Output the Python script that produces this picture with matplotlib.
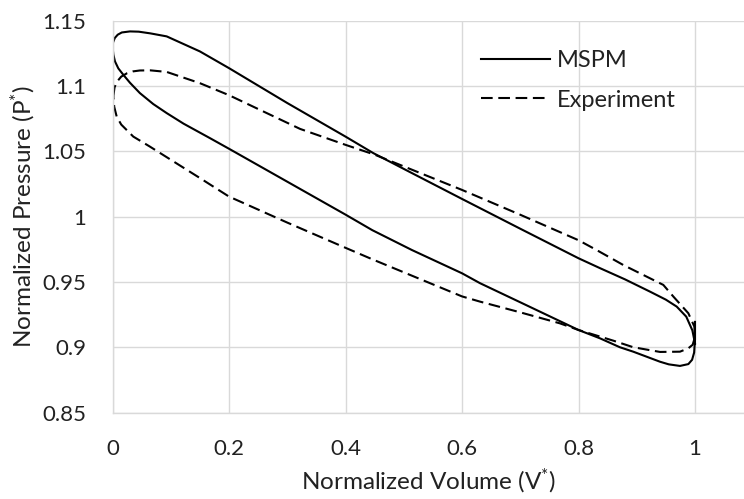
import matplotlib
matplotlib.use("Agg")
import matplotlib.pyplot as plt

plt.rcParams['font.family'] = ['Lato', 'DejaVu Sans']
plt.rcParams['mathtext.fontset'] = 'custom'
plt.rcParams['mathtext.rm'] = 'Lato'
plt.rcParams['mathtext.it'] = 'Lato:italic'

# ---- data ----
v_mspm = [1.000, 1.000, 0.9985, 0.995, 0.9886, 0.9742, 0.955, 0.940, 0.894, 0.871, 0.837, 0.800,
          0.700, 0.631, 0.600, 0.514, 0.446, 0.400, 0.300, 0.200, 0.1674, 0.122, 0.093, 0.070, 0.047,
          0.030, 0.0186, 0.010, 0.0043, 0.0015, 0.000, 0.001, 0.004, 0.009, 0.016, 0.030, 0.045,
          0.065, 0.093, 0.150, 0.200, 0.300, 0.400, 0.448, 0.500, 0.600, 0.700, 0.800, 0.837,
          0.880, 0.923, 0.950, 0.9686, 0.985, 0.9955, 1.000]
p_mspm = [0.9195, 0.906, 0.896, 0.8905, 0.8872, 0.8858, 0.887, 0.889, 0.8967, 0.9001, 0.9069, 0.9133,
          0.9345, 0.9491, 0.9567, 0.9745, 0.9897, 1.0016, 1.0268, 1.0520, 1.0601, 1.0712, 1.0793,
          1.0862, 1.0946, 1.1025, 1.1086, 1.1135, 1.1188, 1.1240, 1.130, 1.1335, 1.1368, 1.1393,
          1.1410, 1.1418, 1.1416, 1.1403, 1.1380, 1.1265, 1.1137, 1.0870, 1.0613, 1.0486, 1.0366,
          1.0136, 0.9908, 0.9682, 0.9606, 0.9520, 0.9426, 0.9365, 0.9312, 0.9235, 0.913, 0.903]

v_exp = [0.0014, 0.0035, 0.008, 0.015, 0.025, 0.035, 0.047, 0.065, 0.093, 0.150, 0.200, 0.322,
         0.400, 0.450, 0.600, 0.700, 0.800, 0.829, 0.877, 0.9456, 0.963, 0.9886, 0.9989, 1.000,
         0.9960, 0.9886, 0.9742, 0.940, 0.894, 0.860, 0.800, 0.768, 0.700, 0.631, 0.600, 0.4455,
         0.400, 0.300, 0.200, 0.150, 0.100, 0.064, 0.0357, 0.015, 0.0072, 0.003, 0.0014]
p_exp = [1.092, 1.0990, 1.1035, 1.1072, 1.1098, 1.1112, 1.1119, 1.1120, 1.1108, 1.1022, 1.093,
         1.0672, 1.055, 1.0475, 1.0205, 1.0015, 0.9820, 0.9750, 0.963, 0.9478, 0.9388, 0.9261,
         0.9159, 0.908, 0.902, 0.8993, 0.8967, 0.8965, 0.9001, 0.9051, 0.9133, 0.9184, 0.9268,
         0.935, 0.939, 0.9675, 0.9762, 0.9955, 1.0154, 1.0296, 1.0436, 1.0537, 1.0613, 1.0705,
         1.0766, 1.084, 1.092]

x_ticks = [0, 0.2, 0.4, 0.6, 0.8, 1.0]
x_tick_labels = ['0', '0.2', '0.4', '0.6', '0.8', '1']
y_ticks = [0.85, 0.9, 0.95, 1.0, 1.05, 1.1, 1.15]
y_tick_labels = ['0.85', '0.9', '0.95', '1', '1.05', '1.1', '1.15']

W, H = 744, 499
fig = plt.figure(figsize=(W / 100, H / 100), dpi=100)
left_px, right_px, top_px, bottom_px = 112.5, 744, 20.7, 412.7
ax = fig.add_axes([left_px / W, (H - bottom_px) / H, (right_px - left_px) / W, (bottom_px - top_px) / H])

text_color = '#222222'
grid_color = '#d9d9d9'

ax.plot(v_mspm, p_mspm, color='black', lw=1.5, solid_joinstyle='round', label='MSPM')
ax.plot(v_exp, p_exp, color='black', lw=1.5, linestyle=(0, (5.6, 2.7)), label='Experiment')

ax.set_xlim(0, (right_px - left_px) / 582.5)
ax.set_ylim(0.85, 1.15)
ax.set_xticks(x_ticks)
ax.set_xticklabels(x_tick_labels)
ax.set_yticks(y_ticks)
ax.set_yticklabels(y_tick_labels)
ax.grid(True, color=grid_color, lw=1.0)
ax.set_axisbelow(True)
for s in ['top', 'right']:
    ax.spines[s].set_visible(False)
for s in ['left', 'bottom']:
    ax.spines[s].set_color(grid_color)
    ax.spines[s].set_linewidth(1.0)
ax.tick_params(axis='both', length=0, labelsize=16, colors=text_color)
ax.tick_params(axis='y', pad=19)
ax.tick_params(axis='x', pad=19)

ax.set_xlabel(r'Normalized Volume (V$^{*}$)', fontsize=17.5, color=text_color)
ax.set_ylabel(r'Normalized Pressure (P$^{*}$)', fontsize=17.5, color=text_color)
ax.xaxis.set_label_coords(0.5, -0.137)
ax.yaxis.set_label_coords(-0.118, 0.5)

leg = ax.legend(loc='upper left', bbox_to_anchor=(481 / W, 1 - 50 / H), bbox_transform=fig.transFigure,
                frameon=False, fontsize=17, handlelength=2.92, handletextpad=0.3, labelspacing=0.79,
                borderpad=0, borderaxespad=0)
for t in leg.get_texts():
    t.set_color(text_color)

fig.savefig('out.png', dpi=100)
